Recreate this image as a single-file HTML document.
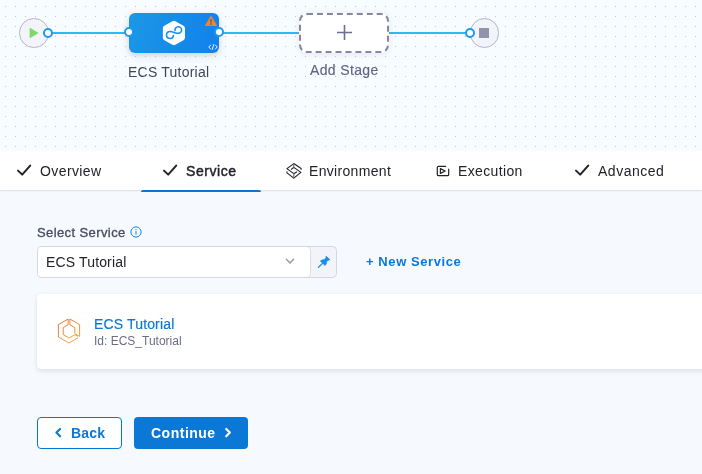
<!DOCTYPE html>
<html lang="en">
<head>
<meta charset="utf-8">
<title>Pipeline Studio</title>
<style>
html,body{margin:0;padding:0;}
body{width:702px;height:474px;overflow:hidden;position:relative;background:#f6fafe;font-family:"Liberation Sans",sans-serif;color:#22222a;}
.abs{position:absolute;}
.t{position:absolute;white-space:nowrap;line-height:1;will-change:transform;}
#canvas{left:0;top:0;width:702px;height:151px;background-color:#f6fcff;
 background-image:radial-gradient(circle at 0.5px 0.5px,#c6c7cd 0.45px,rgba(198,199,205,0) 0.95px);background-size:10px 10px;background-position:5px 6px;}
.line{position:absolute;height:2px;background:#2bbaf5;top:32px;}
.port{position:absolute;width:6px;height:6px;border:2px solid #1b9af0;border-radius:50%;background:#fff;top:28px;}
.endnode{position:absolute;width:27.5px;height:27.5px;border:1px solid #b4b5c9;border-radius:50%;background:#f3f3fa;top:18px;}
#stage{left:129px;top:12.7px;width:90px;height:40px;border-radius:6px;background:linear-gradient(110deg,#1c98e6 0%,#158be9 55%,#1380ee 100%);box-shadow:0 2px 4px rgba(40,41,61,.08),0 3px 8px rgba(96,97,112,.16);}
#addstage{left:299px;top:12.7px;width:86px;height:36px;border:2px dashed #8687a3;border-radius:8px;background:#fff;box-shadow:0 1px 6px rgba(96,97,112,.14);}
#tabs{left:0;top:150.5px;width:702px;height:39.5px;background:#fff;box-shadow:0 1px 1.5px rgba(40,41,61,.13);}
.tab{font-size:14px;color:#22222a;top:163.6px;}
#underline{left:141px;top:189.5px;width:120px;height:2.6px;background:#0b74d4;border-radius:3px 3px 0 0;}
#input{left:38px;top:247px;width:272px;height:30px;border-radius:3.5px;background:#fff;box-shadow:0.5px 0 0.5px rgba(120,122,150,0.35);}
#pinbox{left:37px;top:246px;width:298px;height:30px;border:1px solid #d5d6e2;border-radius:4.5px;background:#f3f3fa;}
#card{left:37px;top:294px;width:700px;height:74.6px;border-radius:4px;background:#fff;box-shadow:0 0 1px rgba(40,41,61,.06),0 2px 5px rgba(96,97,112,.17);}
#back{left:37px;top:417px;width:83px;height:30px;border:1px solid #0278d5;border-radius:4px;background:#fff;}
#cont{left:134px;top:417px;width:114px;height:32px;border-radius:4px;background:#0b78d6;}
</style>
</head>
<body>
<div id="canvas" class="abs"></div>

<!-- connector lines -->
<div class="line" style="left:48px;width:82px"></div>
<div class="line" style="left:219px;width:81px"></div>
<div class="line" style="left:389px;width:81px"></div>

<!-- start node -->
<div class="endnode" style="left:19px"></div>
<svg class="abs" style="left:29px;top:27px" width="11" height="12" viewBox="0 0 11 12"><path d="M1 1.2 L9 6 L1 10.8 Z" fill="#7fd96a" stroke="#7fd96a" stroke-width="0.8" stroke-linejoin="round"/></svg>

<!-- end node -->
<div class="endnode" style="left:469.5px"></div>
<div class="abs" style="left:479px;top:28px;width:10px;height:10px;background:#9293ab;"></div>

<!-- stage node -->
<div id="stage" class="abs"></div>
<svg class="abs" style="left:160px;top:18px" width="30" height="30" viewBox="0 0 30 30">
  <path d="M13.9 5.75 L21.95 10.35 L21.95 19.65 L13.9 24.25 L5.85 19.65 L5.85 10.35 Z" fill="#fff" stroke="#fff" stroke-width="6" stroke-linejoin="round"/>
  <path d="M13.45 17.6 A3.5 3.5 0 1 1 10 13.5 C13.2 13.5 15 15.3 18.3 15.3 A3.3 3.3 0 1 0 15.04 12.52" fill="none" stroke="#1b90ea" stroke-width="1.6" stroke-linecap="round"/>
</svg>
<!-- warning -->
<svg class="abs" style="left:204px;top:15px" width="14" height="12" viewBox="0 0 14 12"><path d="M7 1.9 L12.1 10.3 L1.9 10.3 Z" fill="#f5822a" stroke="#f5822a" stroke-width="1.6" stroke-linejoin="round"/><rect x="6.05" y="3.9" width="1.9" height="3.6" rx="0.3" fill="#66718c"/><rect x="6.05" y="8.2" width="1.9" height="1.8" rx="0.3" fill="#66718c"/></svg>
<!-- code icon -->
<svg class="abs" style="left:208px;top:44px" width="10" height="6" viewBox="0 0 10 6"><path d="M2.6 1 L0.8 3 L2.6 5 M7.4 1 L9.2 3 L7.4 5 M5.7 0.6 L4.3 5.4" fill="none" stroke="#fff" stroke-width="0.9" stroke-linecap="round" stroke-linejoin="round"/></svg>

<div class="port" style="left:43px"></div>
<div class="port" style="left:124px;top:27px;"></div>
<div class="port" style="left:214px;top:27px;"></div>
<div class="port" style="left:465px"></div>

<div class="t" style="left:128px;top:64.8px;font-size:14px;letter-spacing:0.22px;color:#44455a;">ECS Tutorial</div>

<!-- add stage -->
<div id="addstage" class="abs"></div>
<svg class="abs" style="left:336px;top:24px" width="17" height="17" viewBox="0 0 17 17"><path d="M8.5 1 V16 M1 8.5 H16" stroke="#6e6f8a" stroke-width="1.6" fill="none"/></svg>
<div class="t" style="left:309.5px;top:62.5px;font-size:14px;letter-spacing:0.36px;color:#626482;-webkit-text-stroke:0.15px #626482;">Add Stage</div>

<!-- tabs -->
<div id="tabs" class="abs"></div>
<div id="underline" class="abs"></div>

<svg class="abs chk" style="left:16px;top:163.4px" width="16" height="14" viewBox="0 0 16 14"><path d="M2 7.6 L6.2 11.6 L14.2 2.6" fill="none" stroke="#22222a" stroke-width="2" stroke-linecap="round" stroke-linejoin="round"/></svg>
<div class="t tab" style="left:40px;letter-spacing:0.4px;">Overview</div>

<svg class="abs chk" style="left:161.5px;top:163.4px" width="16" height="14" viewBox="0 0 16 14"><path d="M2 7.6 L6.2 11.6 L14.2 2.6" fill="none" stroke="#22222a" stroke-width="2" stroke-linecap="round" stroke-linejoin="round"/></svg>
<div class="t tab" style="left:186.2px;letter-spacing:0.55px;-webkit-text-stroke:0.45px #22222a;">Service</div>

<svg class="abs" style="left:284px;top:161px" width="20" height="20" viewBox="0 0 20 20"><g fill="none" stroke="#22222a" stroke-width="1.15" stroke-linecap="round" stroke-linejoin="round">
 <path d="M17.1 8.3 V7.4 L9.8 2.6 L2.95 7.6 L9.8 12.65 L12.65 10.95"/>
 <path d="M7.4 8.2 L9.8 6.35 L16.9 11.4 L9.8 17.1 L2.95 11.9 V10.9"/>
 <path d="M9.8 2.6 V6.35 M9.8 12.65 V17.1" stroke="#6a6a74"/></g></svg>
<div class="t tab" style="left:309.3px;letter-spacing:0.32px;">Environment</div>

<svg class="abs" style="left:436px;top:165px" width="14" height="12" viewBox="0 0 14 12"><g fill="none" stroke="#22222a" stroke-width="1.2" stroke-linecap="round" stroke-linejoin="round">
 <path d="M9.6 1.3 H2.6 Q1.3 1.3 1.3 2.6 V9.4 Q1.3 10.7 2.6 10.7 H11.4 Q12.7 10.7 12.7 9.4 V4.2"/>
 <path d="M4.4 3.6 V8.4 L9.2 6 Z"/></g></svg>
<div class="t tab" style="left:458.2px;letter-spacing:0.36px;">Execution</div>

<svg class="abs chk" style="left:574px;top:163.4px" width="16" height="14" viewBox="0 0 16 14"><path d="M2 7.6 L6.2 11.6 L14.2 2.6" fill="none" stroke="#22222a" stroke-width="2" stroke-linecap="round" stroke-linejoin="round"/></svg>
<div class="t tab" style="left:598px;letter-spacing:0.52px;">Advanced</div>

<!-- form -->
<div class="t" style="left:37px;top:225.5px;font-size:13px;letter-spacing:0.4px;color:#4b4d5f;-webkit-text-stroke:0.35px #4b4d5f;">Select Service</div>
<svg class="abs" style="left:129.5px;top:226px" width="12" height="12" viewBox="0 0 12 12"><circle cx="6" cy="6" r="5.1" fill="none" stroke="#1585e0" stroke-width="1"/><rect x="5.5" y="5.1" width="1" height="3.6" fill="#1585e0"/><rect x="5.45" y="3.1" width="1.1" height="1.1" fill="#1585e0"/></svg>

<div id="pinbox" class="abs"></div>
<div id="input" class="abs"></div>
<div class="t" style="left:46px;top:254.8px;font-size:14px;letter-spacing:0.15px;color:#22222a;">ECS Tutorial</div>
<svg class="abs" style="left:284px;top:256.6px" width="12" height="9" viewBox="0 0 12 9"><path d="M2.4 2.3 L6 6 L9.6 2.3" fill="none" stroke="#9697ad" stroke-width="1.5" stroke-linecap="round" stroke-linejoin="round"/></svg>
<svg class="abs" style="left:316px;top:254px" width="16" height="16" viewBox="0 0 16 16"><g fill="#1a8ee9" stroke="#1a8ee9" stroke-linejoin="round" stroke-linecap="round">
 <path d="M10.4 2.5 L13.8 5.7 L12.4 6.2 L10.5 7.5 L10.3 9.6 L9.1 11.4 L4.4 7 L6.4 6 L8.6 5.6 L9.9 3.8 Z" stroke-width="0.9"/>
 <path d="M6.4 9.5 L2.3 13.5" stroke-width="1.1" fill="none"/></g></svg>
<div class="t" style="left:366px;top:254.5px;font-size:13px;font-weight:700;letter-spacing:0.58px;color:#0b78d6;">+ New Service</div>

<!-- card -->
<div id="card" class="abs"></div>
<svg class="abs" style="left:56px;top:317px" width="26" height="28" viewBox="0 0 26 28">
 <defs><linearGradient id="og" x1="0" y1="0" x2="0.6" y2="1"><stop offset="0" stop-color="#d0622c"/><stop offset="1" stop-color="#fb9a1d"/></linearGradient></defs>
 <g fill="none" stroke="url(#og)" stroke-width="0.9" stroke-linejoin="round">
  <path d="M12.1 2.1 L2.4 7.6 V20 L13 26 L22 20.8 M13.9 2.1 L23.6 7.6 V19.4 L19 16.8"/>
  <path d="M12.1 2.1 V7.8 L7.2 10.6 V17.6 L13 21 L19 17.6 L22 19.4 M13.9 2.1 V7.8 L18.8 10.6 V16.6"/>
 </g></svg>
<div class="t" style="left:93.8px;top:316.6px;font-size:14px;letter-spacing:0.15px;color:#0b78d6;-webkit-text-stroke:0.18px #0b78d6;">ECS Tutorial</div>
<div class="t" style="left:93.8px;top:334.6px;font-size:12px;color:#6b6d85;">Id: ECS_Tutorial</div>

<!-- buttons -->
<div id="back" class="abs"></div>
<svg class="abs" style="left:53px;top:426px" width="10" height="13" viewBox="0 0 10 13"><path d="M7.1 2.9 L3.4 6.6 L7.1 10.3" fill="none" stroke="#0b78d6" stroke-width="2.1" stroke-linecap="round" stroke-linejoin="round"/></svg>
<div class="t" style="left:70.6px;top:426px;font-size:14px;font-weight:700;letter-spacing:0.2px;color:#0b78d6;">Back</div>
<div id="cont" class="abs"></div>
<div class="t" style="left:150.5px;top:426px;font-size:14px;font-weight:700;letter-spacing:0.5px;color:#fff;">Continue</div>
<svg class="abs" style="left:223px;top:426px" width="10" height="13" viewBox="0 0 10 13"><path d="M3.2 2.9 L6.9 6.6 L3.2 10.3" fill="none" stroke="#fff" stroke-width="2.1" stroke-linecap="round" stroke-linejoin="round"/></svg>
</body>
</html>
